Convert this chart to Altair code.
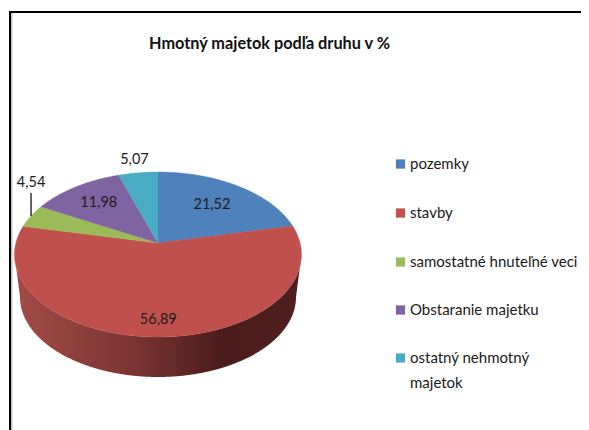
import numpy as np
import pandas as pd
import altair as alt

title = "Hmotný majetok podľa druhu v %"
categories = ["pozemky", "stavby", "samostatné hnuteľné veci", "Obstaranie majetku", "ostatný nehmotný majetok"]
values = [21.52, 56.89, 4.54, 11.98, 5.07]
colors = ["#4F81BD", "#C0504D", "#9BBB59", "#8064A2", "#4BACC6"]

# layout of the tilted pie (page pixels)
CX, CY, A, B, K = 158.0, 243.0, 142.1, 80.9, 0.1394
DEPTH_CY, DEPTH_RX, DEPTH_RY = 297.0, 138.0, 80.0
label_r = [0.65, 0.84, 1.0, 0.70, 1.22]
label_dy = [0, 0, -33, 0, 0]
legend_y = [164, 213, 262, 310, 358]
M = 8
RIGHT, BOTTOM = 581, 430


def project(frac, r=1.0):
    t = np.asarray(frac) * 2 * np.pi
    u, v = r * np.sin(t), r * np.cos(t)
    w = 1 + K * v
    return CX + A * u / w, CY - B * v / w


X = alt.X("x:Q", scale=alt.Scale(domain=[M, RIGHT], range=[0, RIGHT - M]), axis=None)
Y = alt.Y("y:Q", scale=alt.Scale(domain=[M, BOTTOM], range=[0, BOTTOM - M]), axis=None)

# slices
edges = np.concatenate([[0], np.cumsum(values)]) / sum(values)
rows = []
for i, cat in enumerate(categories):
    f = np.linspace(edges[i], edges[i + 1], max(6, int((edges[i + 1] - edges[i]) * 720)))
    xs, ys = project(f)
    pts = [(CX, CY)] + list(zip(xs, ys))
    rows += [dict(cat=cat, seq=j, x=float(a), y=float(b)) for j, (a, b) in enumerate(pts)]
slices = pd.DataFrame(rows)
cscale = alt.Scale(domain=categories, range=colors)
slice_layer = alt.Chart(slices).mark_line(interpolate="linear-closed", strokeWidth=0.4).encode(
    X, Y,
    color=alt.Color("cat:N", scale=cscale, legend=None),
    fill=alt.Fill("cat:N", scale=cscale, legend=None),
    order="seq:Q",
)

# front wall of the pie
xe = np.linspace(0, 1, 721)
tx = CX + (CX - 15) * np.cos(np.pi * (1 - xe))
top_y = (CY + 11.5) + 82.5 * np.sqrt(np.clip(1 - ((tx - CX) / 143.5) ** 2, 0, 1))
bot_y = DEPTH_CY + DEPTH_RY * np.sqrt(np.clip(1 - ((tx - CX) / DEPTH_RX) ** 2, 0, 1))
bot_y = np.where(np.abs(tx - CX) > DEPTH_RX, np.maximum(top_y, CY + 11.5 + (DEPTH_CY - CY - 11.5) * (143.5 - np.abs(tx - CX)) / 5.5), bot_y)
wall = pd.DataFrame({"x": tx, "y": top_y, "y2": bot_y})
wall_layer = alt.Chart(wall).mark_area(
    color=alt.Gradient(
        gradient="linear", x1=0, x2=1, y1=0, y2=0,
        stops=[
            alt.GradientStop(offset=0, color="#A34B47"),
            alt.GradientStop(offset=0.42, color="#7A3431"),
            alt.GradientStop(offset=0.72, color="#4B1C1A"),
            alt.GradientStop(offset=1, color="#4F1F1D"),
        ],
    )
).encode(X, Y, y2="y2:Q")

# data labels and leader
mids = (edges[:-1] + edges[1:]) / 2
lx, ly = project(mids, np.array(label_r))
labels = pd.DataFrame({
    "x": lx, "y": ly + np.array(label_dy),
    "t": [f"{v:.2f}".replace(".", ",") for v in values],
})
label_layer = alt.Chart(labels).mark_text(font="Lato", fontSize=14.5, color="#1a1a1a").encode(X, Y, text="t:N")
gx, gy = project(mids[2])
leader = pd.DataFrame({"x": [float(gx)], "y": [float(gy)], "y2": [float(gy) - 23]})
leader_layer = alt.Chart(leader).mark_rule(color="#000000", strokeWidth=1.2).encode(X, Y, y2="y2:Q")

# legend
leg = pd.DataFrame({"x": 400.5, "y": legend_y, "cat": categories})
leg_sq = alt.Chart(leg).mark_square(size=85, opacity=1, filled=True).encode(
    X, Y, color=alt.Color("cat:N", scale=cscale, legend=None))
leg_text = pd.DataFrame({
    "x": 410,
    "y": legend_y[:4] + [legend_y[4], legend_y[4] + 25],
    "t": ["pozemky", "stavby", "samostatné hnuteľné veci", "Obstaranie majetku", "ostatný nehmotný", "majetok"],
})
leg_lab = alt.Chart(leg_text).mark_text(font="Lato", fontSize=15, align="left", color="#1a1a1a").encode(X, Y, text="t:N")

# frame
frame_h = pd.DataFrame({"x": [9.5], "x2": [RIGHT], "y": [12.0]})
frame_v = pd.DataFrame({"x": [10.0], "y": [11.0], "y2": [BOTTOM]})
frame_g = pd.DataFrame({"x": [11.8], "y": [13.0], "y2": [BOTTOM]})
f1 = alt.Chart(frame_h).mark_rule(color="#000000", strokeWidth=2).encode(X, Y, x2="x2:Q")
f2 = alt.Chart(frame_v).mark_rule(color="#000000", strokeWidth=2).encode(X, Y, y2="y2:Q")
f3 = alt.Chart(frame_g).mark_rule(color="#B5B5B5", strokeWidth=1.2).encode(X, Y, y2="y2:Q")

chart = alt.layer(
    f3, f1, f2, wall_layer, slice_layer, leader_layer, label_layer, leg_sq, leg_lab
).properties(
    width=RIGHT - M, height=BOTTOM - M, padding=0,
    autosize=alt.AutoSizeParams(type="none"),
    background="white",
    title=alt.TitleParams(title, font="Lato", fontSize=16.3, fontWeight="bold", color="#111111",
                          anchor="middle", dx=-25, dy=44, offset=0),
).configure_view(stroke=None)

chart.save("out.html", embed_options={"renderer": "svg", "actions": False})
